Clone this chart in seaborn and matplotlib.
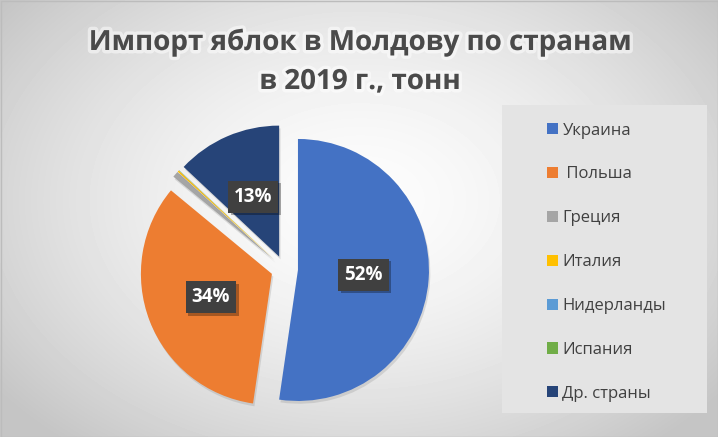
import matplotlib
matplotlib.use('Agg')
import matplotlib.pyplot as plt
import matplotlib.patheffects as pe
from matplotlib.patches import Rectangle
import seaborn as sns
import numpy as np

# data (shares of apple imports, %)
countries = ['Украина', ' Польша', 'Греция', 'Италия', 'Нидерланды', 'Испания', 'Др. страны']
shares = [52.3, 33.7, 0.75, 0.2, 0.03, 0.02, 13.0]
colors = ['#4472C4', '#ED7D31', '#A5A5A5', '#FFC000', '#5B9BD5', '#70AD47', '#264478']
title_lines = ['Импорт яблок в Молдову по странам', 'в 2019 г., тонн']

sns.set_theme(style='white')
plt.rcParams['font.family'] = ['Open Sans', 'DejaVu Sans']

W, H = 718, 437
fig = plt.figure(figsize=(W / 100, H / 100), dpi=100)

# radial grey background
bg = fig.add_axes([0, 0, 1, 1])
yy, xx = np.mgrid[0:H, 0:W]
dist = np.sqrt(((xx - 360) / 430) ** 2 + ((yy - 200) / 300) ** 2)
shade = np.clip(0.99 - 0.2 * dist ** 1.6, 0.77, 1)
bg.imshow(shade, cmap='gray', vmin=0, vmax=1, extent=[0, W, H, 0], aspect='auto')
bg.set_xlim(0, W)
bg.set_ylim(H, 0)
bg.axis('off')

ax = fig.add_axes([0, 0, 1, 1])
ax.patch.set_alpha(0)

# legend panel
ax.add_patch(Rectangle((502, H - 413), 205, 308, facecolor='#e4e4e4', edgecolor='none'))


def fmt(p):
    return f'{p:.0f}%' if p >= 5 else ''


R = 131
wedges, texts, autotexts = ax.pie(
    shares, colors=colors, startangle=90, counterclock=False,
    explode=[0.103 * R] * len(shares), radius=R, center=(284.5, H - 269),
    autopct=fmt, pctdistance=0.5, frame=True,
    wedgeprops=dict(linewidth=0),
    textprops=dict(color='white', fontsize=13.5, fontweight='bold'))

for w in wedges:
    w.set_path_effects([pe.SimplePatchShadow(offset=(1, -2), shadow_rgbFace='#888888', alpha=0.25),
                        pe.Normal()])

for t in autotexts:
    if t.get_text():
        t.set_bbox(dict(boxstyle='square,pad=0.32', facecolor='#404040', edgecolor='none'))
        t.get_bbox_patch().set_path_effects([
            pe.SimplePatchShadow(offset=(2, -2), shadow_rgbFace='black', alpha=0.3),
            pe.Normal()])

ax.set_xlim(0, W)
ax.set_ylim(0, H)
ax.set_aspect('equal')
ax.axis('off')

leg = ax.legend(wedges, countries, loc='upper left', bbox_to_anchor=(540 / W, 1 - 116 / H),
                frameon=False, fontsize=12, labelcolor='#404040',
                handlelength=0.65, handleheight=0.65, handletextpad=0.3,
                labelspacing=1.67, borderaxespad=0)
for h in leg.legend_handles:
    h.set_path_effects([])

# title
for i, line in enumerate(title_lines):
    fig.text(360 / W, 1 - (50 + 39 * i) / H, line, ha='center', va='baseline',
             fontsize=20, fontweight='bold', color='#4a4a4a',
             path_effects=[pe.withStroke(linewidth=5, foreground='white', alpha=0.5)])

# thin border
ax.add_patch(Rectangle((0.5, 0.5), W - 1, H - 1, fill=False, edgecolor='#bcbcbc', linewidth=1))

fig.savefig('out.png', dpi=100)
